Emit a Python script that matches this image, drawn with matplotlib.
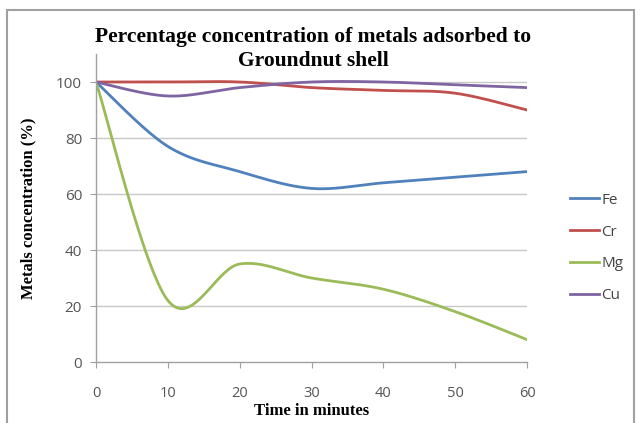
import numpy as np
import matplotlib
matplotlib.use("Agg")
import matplotlib.pyplot as plt
from matplotlib.patches import Rectangle

time = [0, 10, 20, 30, 40, 50, 60]
fe = [100, 77, 68, 62, 64, 66, 68]
cr = [100, 100, 100, 98, 97, 96, 90]
mg = [100, 22, 35, 30, 26, 18, 8]
cu = [100, 95, 98, 100, 100, 99, 98]
series = {"Fe": fe, "Cr": cr, "Mg": mg, "Cu": cu}
colors = {"Fe": "#4F81BD", "Cr": "#C0504D", "Mg": "#9BBB59", "Cu": "#8064A2"}
xticks = [0, 10, 20, 30, 40, 50, 60]
yticks = [0, 20, 40, 60, 80, 100]


def smooth(xs, ys, n=40):
    xs = np.asarray(xs, float)
    ys = np.asarray(ys, float)
    P = np.column_stack([xs, ys])
    out = []
    m = len(P)
    for i in range(m - 1):
        p0 = P[max(i - 1, 0)]
        p1 = P[i]
        p2 = P[i + 1]
        p3 = P[min(i + 2, m - 1)]
        c1 = p1 + (p2 - p0) / 6.0
        c2 = p2 - (p3 - p1) / 6.0
        t = np.linspace(0, 1, n)[:, None]
        seg = ((1 - t) ** 3) * p1 + 3 * ((1 - t) ** 2) * t * c1 + 3 * (1 - t) * t ** 2 * c2 + t ** 3 * p2
        out.append(seg if i == 0 else seg[1:])
    s = np.vstack(out)
    return s[:, 0], s[:, 1]


W, H = 641, 423
fig = plt.figure(figsize=(W / 100, H / 100), dpi=100)
fig.patch.set_facecolor("white")

# chart area border
fig.add_artist(Rectangle((7 / W, -0.01), (634 - 7) / W, 1 - 10 / H + 0.01,
                         transform=fig.transFigure, fill=False,
                         edgecolor="#A0A0A0", linewidth=1.5))

ax = fig.add_axes([96 / W, 1 - 362 / H, (527 - 96) / W, (362 - 54) / H])
for name, vals in series.items():
    sx, sy = smooth(time, vals)
    ax.plot(sx, sy, color=colors[name], linewidth=2, label=name)

ax.set_xlim(0, 60)
ax.set_ylim(0, 110)
ax.set_xticks(xticks)
ax.set_yticks(yticks)
for v in yticks[1:]:
    ax.axhline(v, color="#C8C8C8", linewidth=1, zorder=0)

for s in ["top", "right"]:
    ax.spines[s].set_visible(False)
for s in ["left", "bottom"]:
    ax.spines[s].set_color("#A0A0A0")
    ax.spines[s].set_linewidth(1)

ax.tick_params(axis="both", colors="#A0A0A0", labelcolor="#555555",
               labelsize=11, length=4, direction="out")
ax.tick_params(axis="x", pad=13, labelsize=10.5)
ax.tick_params(axis="y", pad=6)
for lab in ax.get_xticklabels() + ax.get_yticklabels():
    lab.set_fontfamily("Open Sans")

ax.set_xlabel("Time in minutes", fontfamily="Liberation Serif",
              fontweight="bold", fontsize=12, labelpad=2)
ax.set_ylabel("Metals concentration (%)", fontfamily="Liberation Serif",
              fontweight="bold", fontsize=12, labelpad=14)

fig.text(313 / W, 1 - 49 / H, "Percentage concentration of metals adsorbed to\nGroundnut shell",
         ha="center", va="center", fontfamily="Liberation Serif",
         fontweight="bold", fontsize=15.5, linespacing=1.25)

leg = ax.legend(loc="center left", bbox_to_anchor=(1.085, 0.37), frameon=False,
                fontsize=11, handlelength=1.9, handletextpad=0.15,
                labelspacing=1.1, borderaxespad=0)
for t in leg.get_texts():
    t.set_color("#444444")
    t.set_fontfamily("Open Sans")

fig.savefig("out.png", dpi=100)
